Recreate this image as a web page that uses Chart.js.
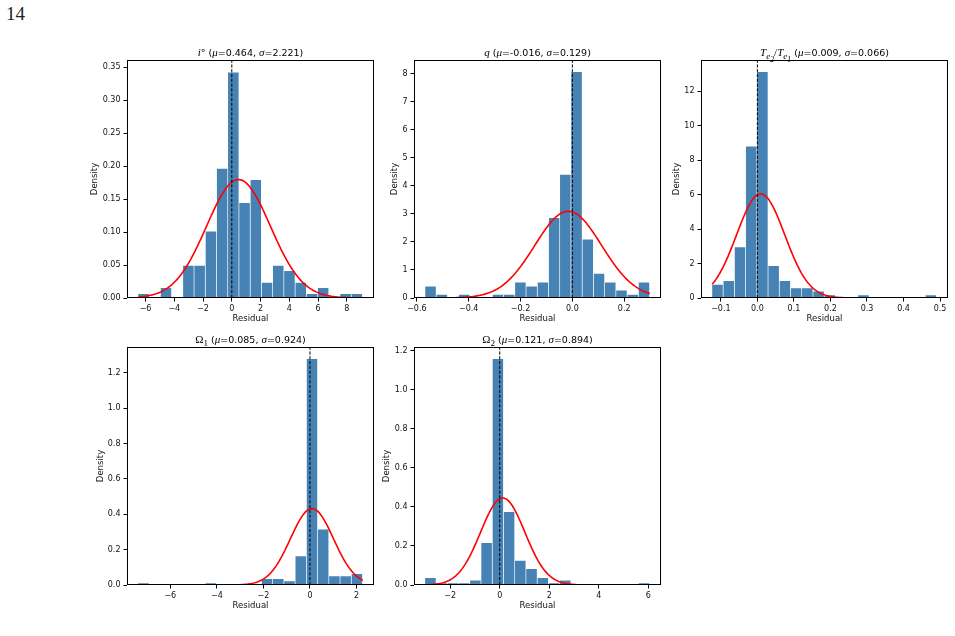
<!DOCTYPE html>
<html>
<head>
<meta charset="utf-8">
<script src="https://cdn.jsdelivr.net/npm/chart.js@4.4.1/dist/chart.umd.min.js"></script>
<style>
body { margin: 0; width: 955px; height: 636px; background: #fff; position: relative; overflow: hidden; }
canvas { position: absolute; }
.ttl { position: absolute; width: 247px; text-align: center; font: 9.5px 'DejaVu Sans'; line-height: 12px; white-space: nowrap; color: #000; }
.m { font-family: 'Liberation Serif'; font-style: italic; font-size: 11px; }
.r { font-family: 'Liberation Serif'; font-size: 11px; }
#page { position: absolute; left: 6px; top: 3px; font: 19px 'Liberation Serif'; color: #222; }
</style>
</head>
<body>
<div id="page">14</div>

<script>
// histogram densities, 20 bins per panel
const inclDensity = [0.007, 0, 0.016, 0, 0.050, 0.050, 0.102, 0.197, 0.343, 0.145, 0.180, 0.024, 0.050, 0.042, 0.024, 0.007, 0.016, 0, 0.007, 0.007];
const qDensity = [0.43, 0.14, 0, 0.14, 0, 0, 0.14, 0.14, 0.58, 0.43, 0.58, 2.88, 4.42, 8.09, 2.11, 0.89, 0.58, 0.29, 0.14, 0.58];
const tempDensity = [0.81, 1.03, 2.99, 8.84, 13.16, 1.90, 1.03, 0.61, 0.61, 0.41, 0.20, 0, 0, 0.20, 0, 0, 0, 0, 0, 0.20];
const omega1Density = [0.013, 0, 0, 0, 0, 0, 0.013, 0, 0, 0, 0, 0.038, 0.038, 0.025, 0.166, 1.281, 0.317, 0.053, 0.053, 0.066];
const omega2Density = [0.039, 0.012, 0.012, 0.012, 0.026, 0.219, 1.162, 0.378, 0.128, 0.086, 0.039, 0.012, 0.026, 0, 0, 0, 0, 0, 0, 0.012];

const densities = [inclDensity, qDensity, tempDensity, omega1Density, omega2Density];
const binStarts = [-6.51, -0.5675, -0.1236, -7.38, -3.01];
const binWidths = [0.781, 0.04333, 0.03073, 0.4825, 0.4535];

// gaussian fit shown in each title
const fitMu = [0.464, -0.016, 0.009, 0.085, 0.121];
const fitSigma = [2.221, 0.129, 0.066, 0.924, 0.894];

const titles = [
    '<span class="m">i</span>° (<span class="m">μ</span>=0.464, <span class="m">σ</span>=2.221)',
    '<span class="m">q</span> (<span class="m">μ</span>=-0.016, <span class="m">σ</span>=0.129)',
    '<span class="m">T<sub>e<sub>2</sub></sub></span><span class="r">/</span><span class="m">T<sub>e<sub>1</sub></sub></span> (<span class="m">μ</span>=0.009, <span class="m">σ</span>=0.066)',
    '<span class="r">Ω<sub>1</sub></span> (<span class="m">μ</span>=0.085, <span class="m">σ</span>=0.924)',
    '<span class="r">Ω<sub>2</sub></span> (<span class="m">μ</span>=0.121, <span class="m">σ</span>=0.894)'
];

const xLimits = [[-7.29, 9.89], [-0.611, 0.342], [-0.1543, 0.5217], [-7.86, 2.75], [-3.46, 6.51]];
const yMax = [0.361, 8.49, 13.82, 1.345, 1.22];
const xTicks = [
    [-6, -4, -2, 0, 2, 4, 6, 8],
    [-0.6, -0.4, -0.2, 0, 0.2],
    [-0.1, 0, 0.1, 0.2, 0.3, 0.4, 0.5],
    [-6, -4, -2, 0, 2],
    [-2, 0, 2, 4, 6]
];
const yTicks = [
    [0, 0.05, 0.10, 0.15, 0.20, 0.25, 0.30, 0.35],
    [0, 1, 2, 3, 4, 5, 6, 7, 8],
    [0, 2, 4, 6, 8, 10, 12],
    [0, 0.2, 0.4, 0.6, 0.8, 1.0, 1.2],
    [0, 0.2, 0.4, 0.6, 0.8, 1.0, 1.2]
];
const xDecimals = [0, 1, 1, 0, 0];
const yDecimals = [2, 0, 0, 1, 1];

// layout of the plot areas on the page
const areaLeft = [127, 414, 701, 127, 414];
const areaTop = [60, 60, 60, 347, 347];
const ylabelGap = [32, 19, 24, 26, 27];
const AREA_W = 247, AREA_H = 238, Y_BOX = 50, X_BOX = 32, PAD_TOP = 20, PAD_RIGHT = 15;

Chart.defaults.font.family = "'DejaVu Sans'";
Chart.defaults.font.size = 8;
Chart.defaults.color = '#111';

function normalPdf(x, mu, s) {
    return Math.exp(-0.5 * ((x - mu) / s) ** 2) / (s * Math.sqrt(2 * Math.PI));
}

function fmt(v, d) {
    return v.toFixed(d).replace('-', '\u2212');
}

const spines = {
    id: 'spines',
    afterDraw(chart) {
        const { ctx, chartArea: a } = chart;
        ctx.save();
        ctx.strokeStyle = '#000';
        ctx.lineWidth = 1;
        ctx.strokeRect(a.left + 0.5, a.top + 0.5, a.right - a.left - 1, a.bottom - a.top - 1);
        ctx.restore();
    }
};

function makePanel(i) {
    const canvas = document.createElement('canvas');
    canvas.width = Y_BOX + AREA_W + PAD_RIGHT;
    canvas.height = PAD_TOP + AREA_H + X_BOX;
    canvas.style.left = (areaLeft[i] - Y_BOX) + 'px';
    canvas.style.top = (areaTop[i] - PAD_TOP) + 'px';
    document.body.appendChild(canvas);

    const title = document.createElement('div');
    title.className = 'ttl';
    title.innerHTML = titles[i];
    title.style.left = areaLeft[i] + 'px';
    title.style.top = (areaTop[i] - 14) + 'px';
    document.body.appendChild(title);

    const bars = densities[i].map((d, j) => ({ x: binStarts[i] + (j + 0.5) * binWidths[i], y: d }));
    const lo = binStarts[i];
    const hi = lo + densities[i].length * binWidths[i];
    const curve = [];
    for (let k = 0; k <= 200; k++) {
        const x = lo + (hi - lo) * k / 200;
        curve.push({ x: x, y: normalPdf(x, fitMu[i], fitSigma[i]) });
    }

    new Chart(canvas, {
        type: 'bar',
        data: {
            datasets: [
                {
                    type: 'line',
                    data: [{ x: 0, y: 0 }, { x: 0, y: yMax[i] }],
                    borderColor: '#000',
                    borderWidth: 1,
                    borderDash: [3.2, 1.6],
                    pointRadius: 0,
                    order: 0
                },
                {
                    type: 'line',
                    data: curve,
                    borderColor: '#ff0000',
                    borderWidth: 1.6,
                    pointRadius: 0,
                    tension: 0,
                    order: 1
                },
                {
                    type: 'bar',
                    data: bars,
                    backgroundColor: '#4682b4',
                    borderColor: 'rgba(255,255,255,0.75)',
                    borderWidth: { top: 1, right: 1, left: 0, bottom: 0 },
                    borderSkipped: false,
                    barPercentage: 1,
                    categoryPercentage: 1,
                    order: 2
                }
            ]
        },
        options: {
            responsive: false,
            animation: false,
            layout: { padding: { top: PAD_TOP, right: PAD_RIGHT, left: 0, bottom: 0 } },
            plugins: { legend: { display: false }, tooltip: { enabled: false }, title: { display: false } },
            scales: {
                x: {
                    type: 'linear',
                    min: xLimits[i][0],
                    max: xLimits[i][1],
                    offset: false,
                    grid: { display: true, drawOnChartArea: false, offset: false, tickLength: 3.5, tickColor: '#000', lineWidth: 1 },
                    border: { display: false },
                    ticks: { autoSkip: false, maxRotation: 0, padding: 3, callback: v => fmt(v, xDecimals[i]) },
                    afterBuildTicks: s => { s.ticks = xTicks[i].map(v => ({ value: v })); },
                    afterFit: s => { s.height = X_BOX; },
                    title: { display: true, text: 'Residual', font: { size: 8.5 }, padding: { top: 0, bottom: 6.4 } }
                },
                y: {
                    min: 0,
                    max: yMax[i],
                    grid: { display: true, drawOnChartArea: false, tickLength: 3.5, tickColor: '#000', lineWidth: 1 },
                    border: { display: false },
                    ticks: { autoSkip: false, padding: 3, callback: v => fmt(v, yDecimals[i]) },
                    afterBuildTicks: s => { s.ticks = yTicks[i].map(v => ({ value: v })); },
                    afterFit: s => { s.width = Y_BOX; },
                    title: { display: true, text: 'Density', font: { size: 8.5 }, padding: { top: Y_BOX - ylabelGap[i] - 5.1, bottom: 0 } }
                }
            }
        },
        plugins: [spines]
    });
}

for (let i = 0; i < densities.length; i++) {
    makePanel(i);
}
</script>
</body>
</html>
